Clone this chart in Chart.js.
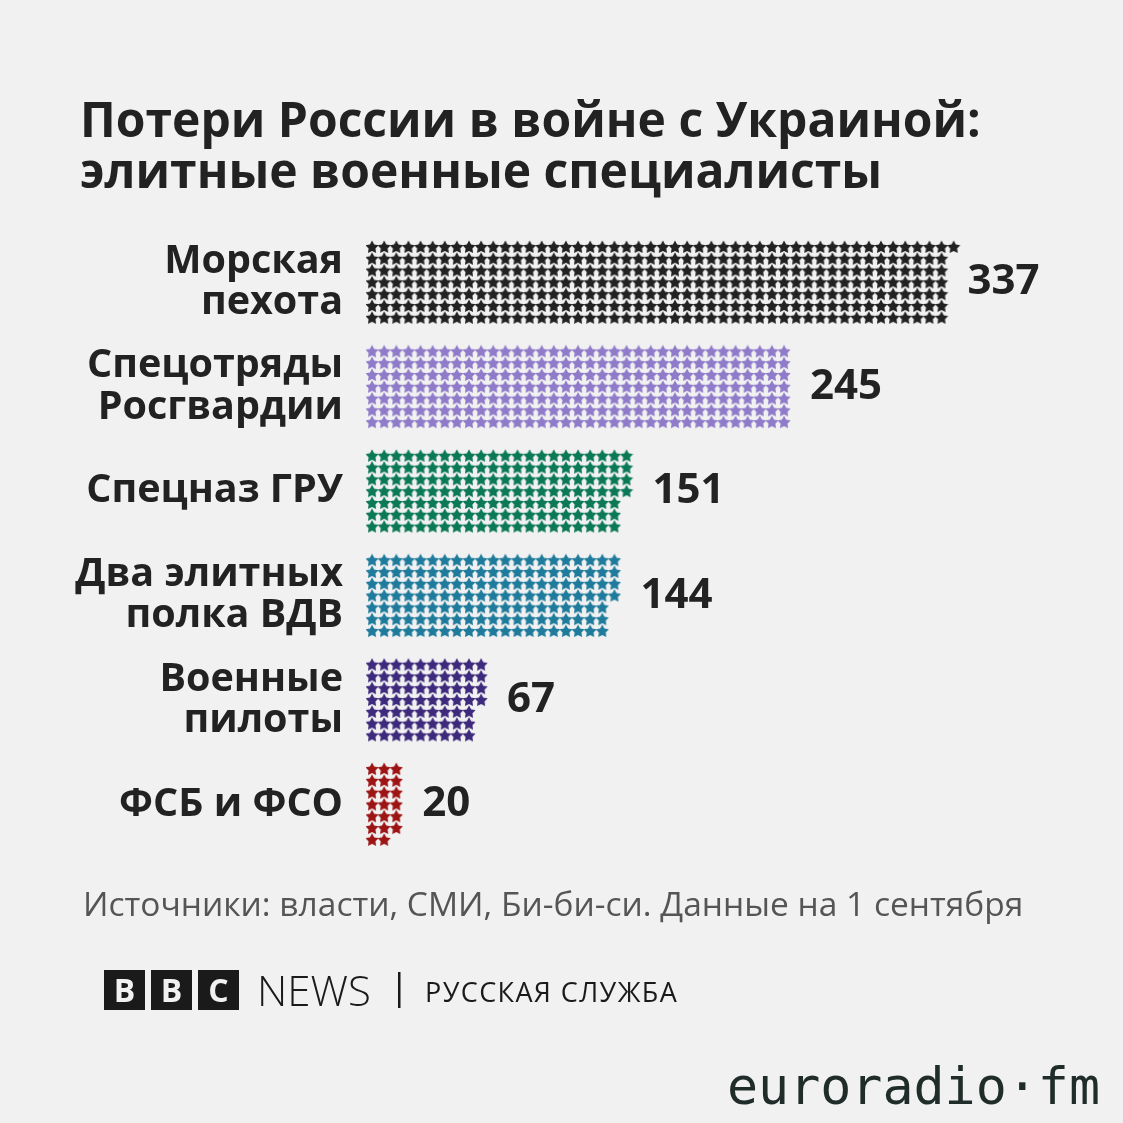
<!DOCTYPE html>
<html lang="ru">
<head>
<meta charset="utf-8">
<script src="https://cdn.jsdelivr.net/npm/chart.js@4"></script>
<style>
  html, body { margin: 0; padding: 0; background: #f1f1f1; }
  #chart { display: block; }
</style>
</head>
<body>
<canvas id="chart" width="1123" height="1123"></canvas>
<script>
// данные
const categories = [
    ['Морская', 'пехота'],
    ['Спецотряды', 'Росгвардии'],
    ['Спецназ ГРУ'],
    ['Два элитных', 'полка ВДВ'],
    ['Военные', 'пилоты'],
    ['ФСБ и ФСО'],
];
const values = [337, 245, 151, 144, 67, 20];
const colors = ['#222222', '#8f7bc9', '#0b7856', '#1f7b9c', '#3e2a7c', '#9c1414'];
const starsPerColumn = 7;
const groupStep = 8.85; // шаг между группами в строках звёзд

// звезда для pointStyle
function makeStar(color) {
    const c = document.createElement('canvas');
    c.width = 14;
    c.height = 14;
    const g = c.getContext('2d');
    const cx = 7, cy = 7.4, R = 6.9, r = 3.6;
    g.beginPath();
    for (let i = 0; i < 10; i++) {
        const a = -Math.PI / 2 + i * Math.PI / 5;
        const rad = i % 2 === 0 ? R : r;
        g.lineTo(cx + rad * Math.cos(a), cy + rad * Math.sin(a));
    }
    g.closePath();
    g.fillStyle = color;
    g.fill();
    return c;
}

const datasets = values.map((v, i) => {
    const pts = [];
    for (let k = 0; k < v; k++) {
        pts.push({ x: Math.floor(k / starsPerColumn), y: i * groupStep + (k % starsPerColumn) });
    }
    return {
        label: categories[i].join(' '),
        data: pts,
        pointStyle: makeStar(colors[i]),
        pointRadius: 6,
    };
});

// подписи значений справа от звёзд
const valueLabels = {
    id: 'valueLabels',
    afterDatasetsDraw(chart) {
        const { ctx, scales: { x, y } } = chart;
        ctx.save();
        ctx.font = 'bold 42px "Open Sans"';
        ctx.fillStyle = '#222';
        ctx.textBaseline = 'middle';
        ctx.textAlign = 'left';
        values.forEach((v, i) => {
            const full = Math.floor(v / starsPerColumn);
            const rem = v % starsPerColumn;
            const lastCol = rem > 1 ? full : full - 1;
            const px = x.getPixelForValue(lastCol) + 26;
            const py = y.getPixelForValue(i * groupStep + 3);
            ctx.fillText(String(v), px, py);
        });
        ctx.restore();
    },
};

// фон, заголовок, источник, логотипы
const decor = {
    id: 'decor',
    beforeDraw(chart) {
        const ctx = chart.ctx;
        ctx.save();
        ctx.fillStyle = '#f1f1f1';
        ctx.fillRect(0, 0, chart.width, chart.height);
        ctx.restore();
    },
    afterDraw(chart) {
        const ctx = chart.ctx;
        ctx.save();
        ctx.textBaseline = 'alphabetic';
        ctx.textAlign = 'left';

        ctx.fillStyle = '#222';
        ctx.font = 'bold 48px "Open Sans"';
        ctx.fillText('Потери России в войне с Украиной:', 80, 137);
        ctx.fillText('элитные военные специалисты', 80, 188);

        ctx.fillStyle = '#555';
        ctx.font = '33.5px "Open Sans"';
        ctx.fillText('Источники: власти, СМИ, Би-би-си. Данные на 1 сентября', 83, 916);

        // BBC NEWS
        ['B', 'B', 'C'].forEach((ch, i) => {
            const bx = 104 + i * 47;
            ctx.fillStyle = '#1a1a1a';
            ctx.fillRect(bx, 970, 41, 40);
            ctx.fillStyle = '#f1f1f1';
            ctx.font = 'bold 32px "Open Sans"';
            ctx.textAlign = 'center';
            ctx.fillText(ch, bx + 20.5, 1002);
        });
        ctx.textAlign = 'left';
        ctx.fillStyle = '#1a1a1a';
        ctx.font = '300 42px "Open Sans"';
        ctx.fillText('NEWS', 257, 1006);
        ctx.fillRect(398, 972, 2.5, 36);
        ctx.font = '27px "Open Sans"';
        ctx.letterSpacing = '1.4px';
        ctx.fillText('РУССКАЯ СЛУЖБА', 425, 1002);
        ctx.letterSpacing = '0px';

        // euroradio·fm
        ctx.font = '52px "DejaVu Sans Mono"';
        const txt = 'euroradio·fm';
        const w = ctx.measureText(txt).width;
        ctx.translate(727, 1104);
        ctx.scale(373 / w, 1);
        ctx.fillStyle = '#1f2c29';
        ctx.fillText(txt, 0, 0);
        ctx.restore();
    },
};

new Chart(document.getElementById('chart'), {
    type: 'scatter',
    data: { datasets },
    options: {
        responsive: false,
        animation: false,
        layout: { padding: { top: 238.7, bottom: 274.3, left: 0, right: 30 } },
        plugins: {
            legend: { display: false },
            tooltip: { enabled: false },
        },
        scales: {
            x: {
                display: false,
                min: -0.5,
                max: 59.5,
            },
            y: {
                reverse: true,
                min: -0.7,
                max: 51,
                grid: { display: false, drawTicks: false },
                border: { display: false },
                afterFit(scale) {
                    scale.width = 366;
                },
                afterBuildTicks(scale) {
                    scale.ticks = categories.map((c, i) => ({ value: i * groupStep + 3 }));
                },
                ticks: {
                    autoSkip: false,
                    padding: 23,
                    color: '#222',
                    font: { family: 'Open Sans', weight: 'bold', size: 39.5, lineHeight: 1.04 },
                    callback: (value, index) => categories[index],
                },
            },
        },
    },
    plugins: [decor, valueLabels],
});
</script>
</body>
</html>
